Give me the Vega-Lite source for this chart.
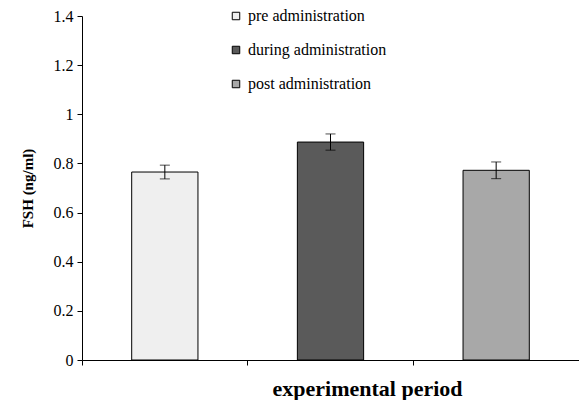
{
  "$schema": "https://vega.github.io/schema/vega-lite/v6.json",
  "autosize": {"type": "none"},
  "padding": {"left": 82, "top": 16, "right": 0, "bottom": 40},
  "width": 497,
  "height": 344,
  "background": "white",
  "config": {
    "view": {"stroke": null},
    "font": "Times New Roman",
    "axis": {"labelFont": "Times New Roman", "titleFont": "Times New Roman", "labelColor": "black", "titleColor": "black"},
    "legend": {"labelFont": "Times New Roman", "titleFont": "Times New Roman"}
  },
  "data": {"values": [
    {"period": "pre administration", "fsh": 0.765, "sem": 0.028},
    {"period": "during administration", "fsh": 0.887, "sem": 0.033},
    {"period": "post administration", "fsh": 0.772, "sem": 0.034}
  ]},
  "encoding": {
    "x": {"field": "period", "type": "nominal", "sort": null,
      "scale": {"paddingInner": 0, "paddingOuter": 0},
      "axis": {"labels": false, "bandPosition": 0, "tickSize": 5, "tickColor": "black", "domainColor": "black",
        "title": "experimental period", "titleFontSize": 22, "titleFontWeight": "bold", "titleColor": "black",
        "titleX": 285, "titleY": 35, "titleBaseline": "alphabetic", "titleAnchor": "middle"}}
  },
  "layer": [
    {
      "mark": {"type": "bar", "width": {"band": 0.4}, "stroke": "black", "strokeWidth": 1},
      "encoding": {
        "y": {"field": "fsh", "type": "quantitative",
          "scale": {"domain": [0, 1.4], "nice": false},
          "axis": {"values": [0, 0.2, 0.4, 0.6, 0.8, 1, 1.2, 1.4], "format": "~g", "grid": false,
            "tickSize": 5, "tickColor": "black", "domainColor": "black", "labelPadding": 4,
            "labelFontSize": 16, "labelColor": "black",
            "titleFontSize": 15, "titleFontWeight": "bold", "titleColor": "black", "titlePadding": 18},
          "title": "FSH (ng/ml)"},
        "fill": {"field": "period", "type": "nominal", "sort": null,
          "scale": {"domain": ["pre administration", "during administration", "post administration"], "range": ["#efefef", "#5a5a5a", "#a8a8a8"]},
          "legend": {"title": null, "orient": "none", "legendX": 146, "legendY": -8, "padding": 0,
            "symbolType": "square", "symbolSize": 56, "symbolStrokeColor": "black", "symbolStrokeWidth": 1,
            "labelFontSize": 16, "labelColor": "black", "labelOffset": 4, "rowPadding": 18}}
      }
    },
    {
      "mark": {"type": "errorbar", "ticks": {"size": 10, "color": "black"}, "color": "black"},
      "encoding": {
        "y": {"field": "fsh", "type": "quantitative", "title": "FSH (ng/ml)"},
        "yError": {"field": "sem"}
      }
    }
  ]
}
